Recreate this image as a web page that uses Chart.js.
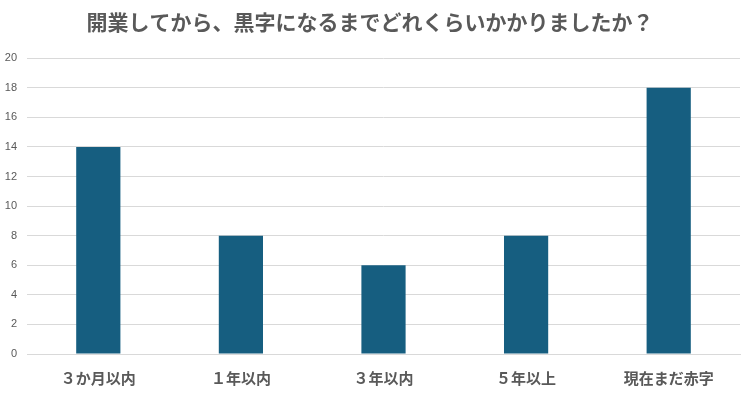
<!DOCTYPE html>
<html><head><meta charset="utf-8">
<script src="https://cdn.jsdelivr.net/npm/chart.js@4"></script>
<style>html,body{margin:0;padding:0;background:#fff}#w{width:750px;height:399px}</style>
</head><body><div id="w"><canvas id="c"></canvas></div>
<script>
const categories = ['３か月以内', '１年以内', '３年以内', '５年以上', '現在まだ赤字'];
const values = [14, 8, 6, 8, 18];
const titleText = '開業してから、黒字になるまでどれくらいかかりましたか？';
const yMax = 20, yStep = 2;

new Chart(document.getElementById('c'), {
  type: 'bar',
  data: { labels: categories, datasets: [{ data: values, backgroundColor: '#165e80', barPercentage: 1, categoryPercentage: 0.31 }] },
  options: {
    responsive: true, maintainAspectRatio: false, animation: false,
    layout: { padding: { left: 0, right: 10, top: 0, bottom: 0 } },
    plugins: {
      legend: { display: false }, tooltip: { enabled: false },
      title: { display: true, text: titleText, color: '#595959',
        font: { family: "'Noto Sans CJK JP', sans-serif", size: 21, weight: 'bold', lineHeight: 1.2 },
        padding: { top: 9, bottom: 24 } }
    },
    scales: {
      x: {
        grid: { display: false, drawTicks: false },
        border: { color: '#d9d9d9' },
        ticks: { color: '#595959', padding: 15, font: { family: "'Noto Sans CJK JP', sans-serif", size: 15, weight: 'bold' } },
        afterFit: s => { s.height = 45; }
      },
      y: {
        min: 0, max: yMax,
        grid: { color: '#d9d9d9', drawTicks: false },
        border: { display: false },
        ticks: { stepSize: yStep, color: '#595959', padding: 10, font: { family: "'Liberation Sans', Arial, sans-serif", size: 11 } },
        afterFit: s => { s.width = 27; }
      }
    }
  }
});
</script></body></html>
